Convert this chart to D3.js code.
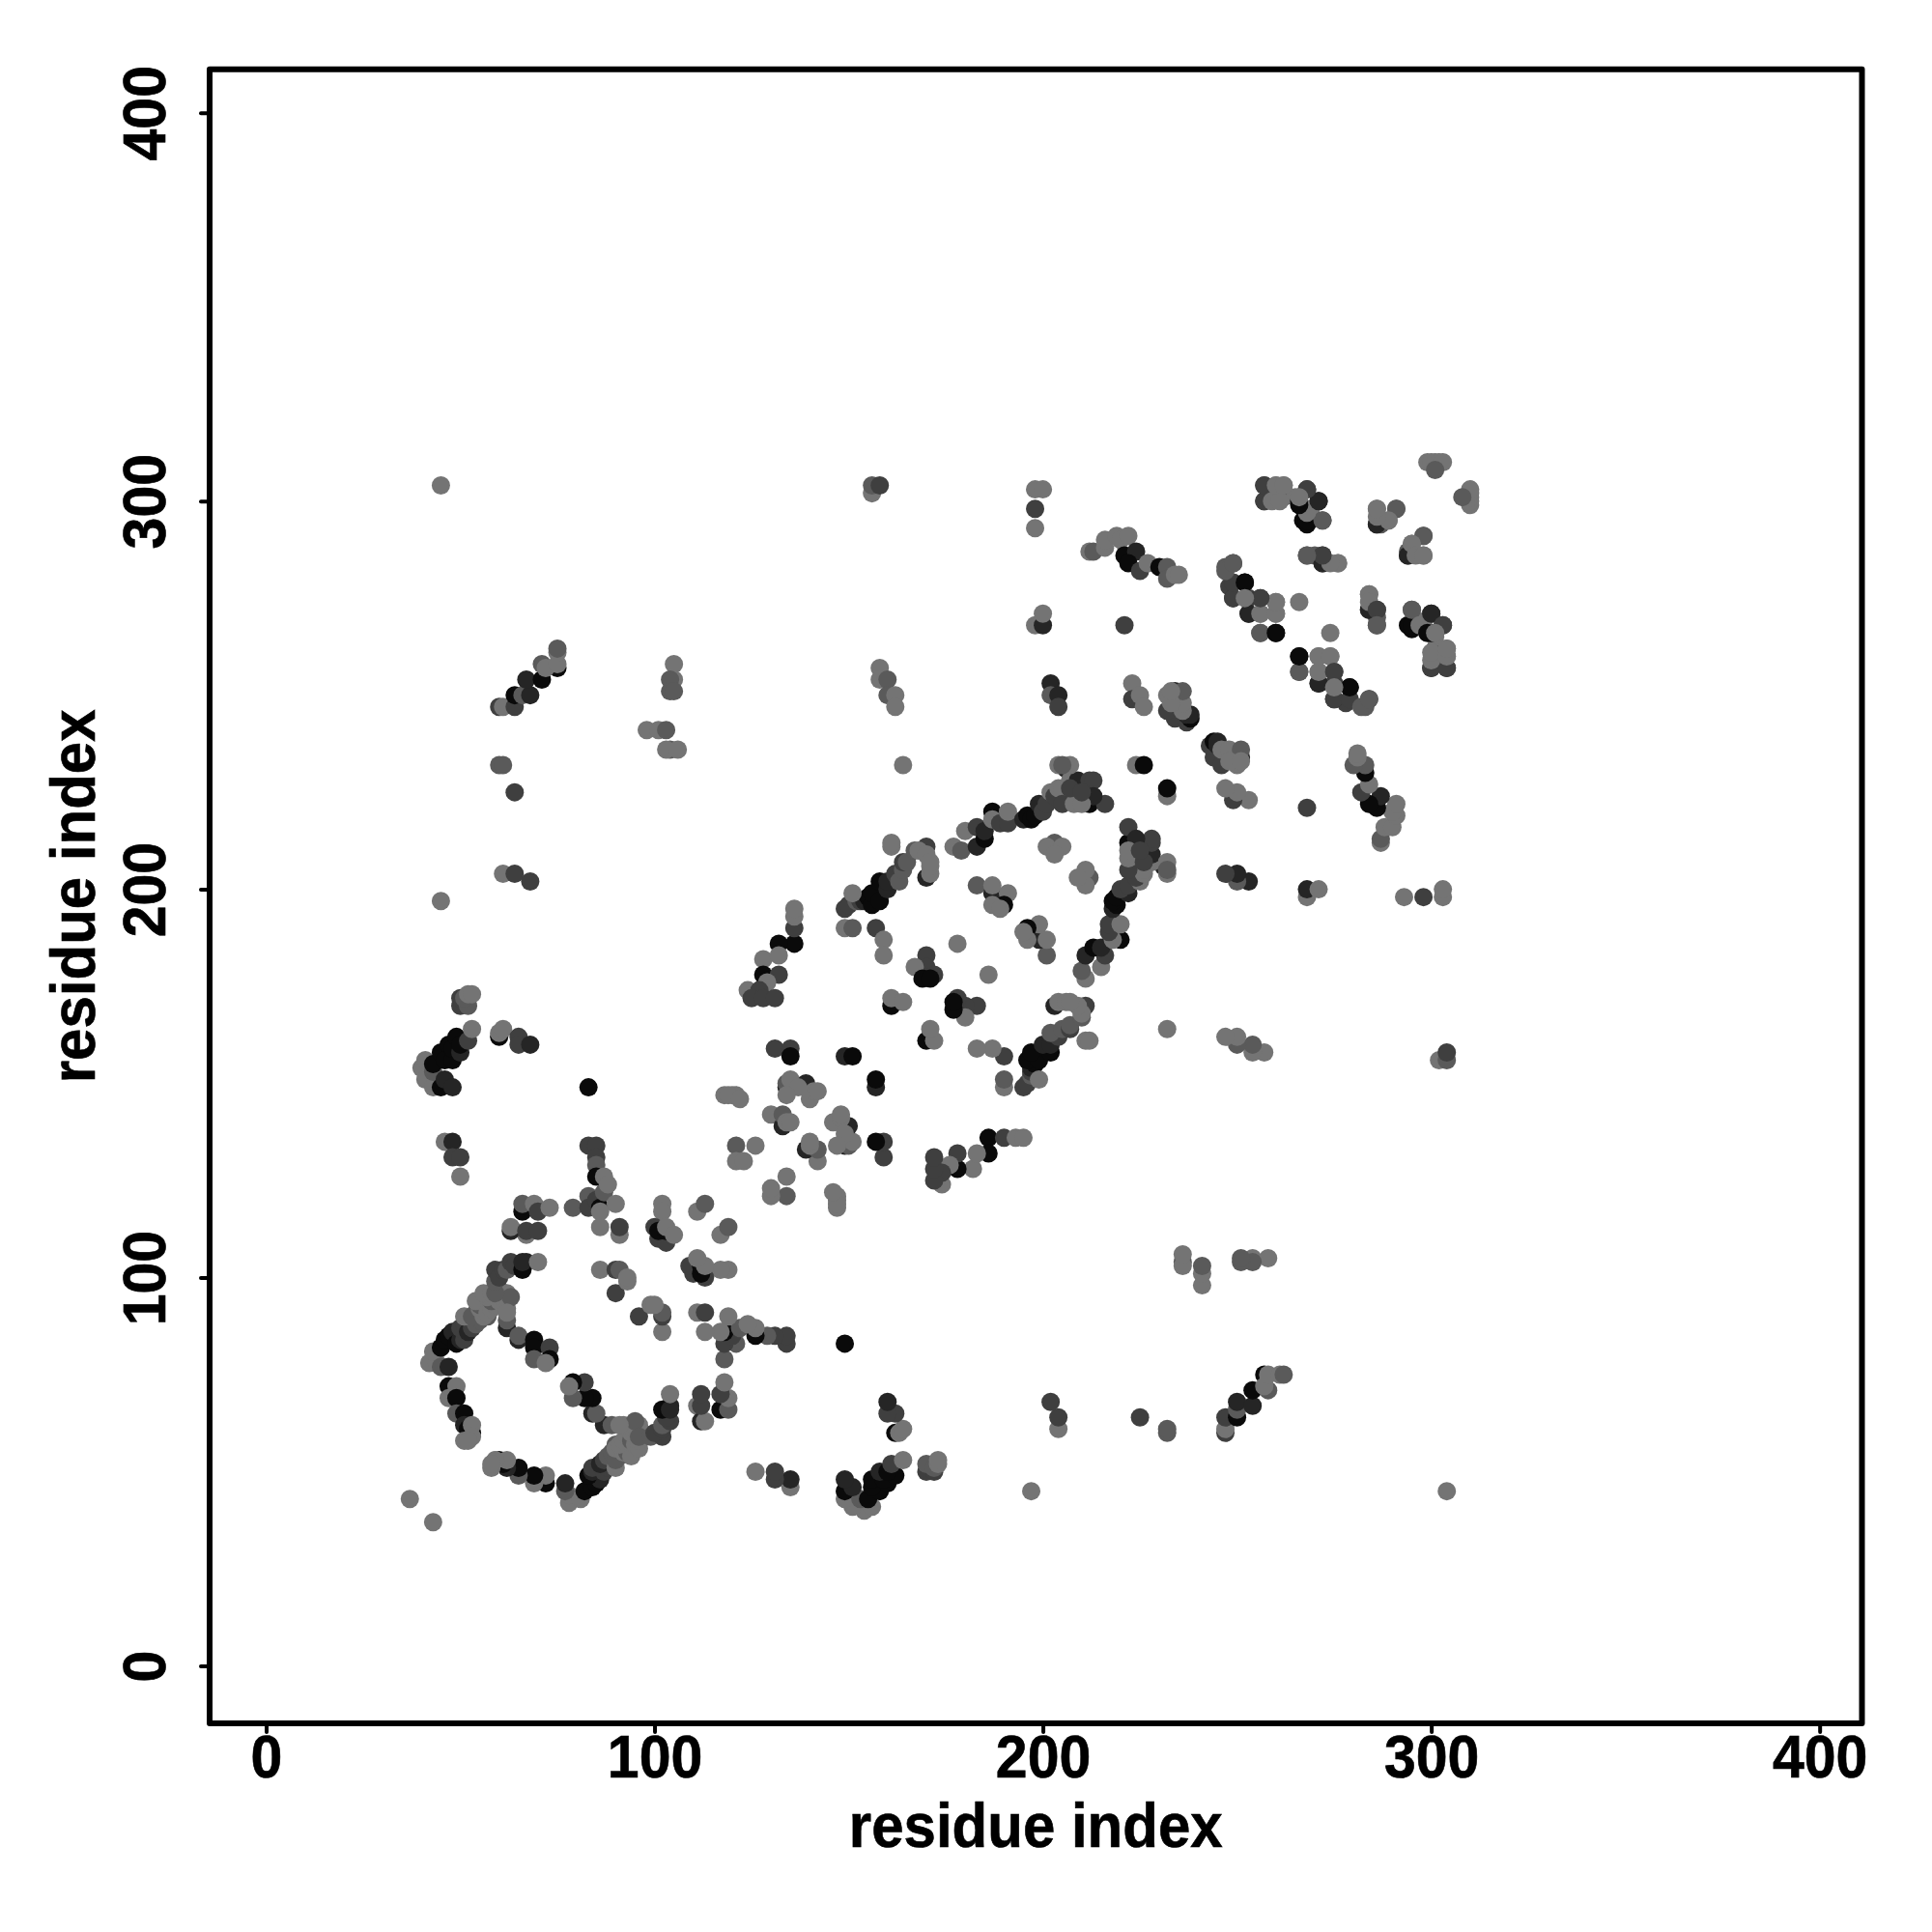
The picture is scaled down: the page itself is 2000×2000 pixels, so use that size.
<!DOCTYPE html>
<html>
  <head>
    <meta charset="utf-8">
    <script src="https://d3js.org/d3.v7.min.js"></script>
    <style>
      body { margin: 0; background: #fff; }
      text { font-family: "Liberation Sans", sans-serif; font-weight: bold; fill: #000; stroke: #000; stroke-width: 0.6; }
    </style>
  </head>
  <body>
    <svg width="2000" height="2000"></svg>
    <script>
    // each row is [residue i, residue j, level], level 0 = black ... 4 = light grey
    const firstLoop = [[42,78,4],[44,78,4],[43,81,4],[45,77,3],[47,77,1],[45,82,0],[46,84,0],[47,85,0],[48,86,1],[49,83,0],[50,84,1],[51,84,2],[50,87,2],[51,88,2],[52,86,1],[53,87,2],[54,88,3],[55,89,3],[54,91,3],[57,90,3],[51,90,4],[53,90,3],[56,90,4],[55,92,4],[55,93,3],[54,94,4],[57,91,4],[58,92,4],[59,93,4],[58,94,3],[57,95,4],[56,96,4],[58,96,4],[60,94,4],[60,97,4],[61,95,4],[62,92,4],[62,96,4],[63,95,3],[59,96,3],[59,99,3],[59,102,2],[60,100,2],[61,102,2],[62,102,3],[63,104,2],[64,103,2],[67,104,1],[66,102,0],[66,104,1],[70,104,4]];
    const loopInner = [[62,87,1],[62,89,3],[62,91,4],[65,84,1],[65,85,3],[69,84,0],[69,82,0],[69,79,3],[73,82,2],[73,79,0],[72,78,4]];
    const loopLeft = [[47,72,0],[49,72,4],[47,69,4],[49,69,0],[49,65,3],[51,65,0],[51,62,1],[53,60,0],[52,61,0],[53,62,4],[51,58,4],[53,59,4],[52,58,4]];
    const loopTop = [[66,117,0],[66,119,3],[69,119,4],[70,117,2],[73,118,4],[67,111,4],[63,112,1],[63,113,4],[67,112,2],[70,112,2],[79,118,3]];
    const cluster85 = [[83,134,2],[85,134,2],[85,131,2],[85,129,3],[85,126,0],[87,126,4],[83,121,3],[83,118,2],[85,120,2],[86,118,0],[87,122,3],[88,124,4],[90,119,4],[86,117,4],[86,113,4],[91,111,4],[91,113,2]];
    const cluster100 = [[102,119,4],[102,117,4],[100,113,2],[101,110,2],[103,109,2],[101,112,0],[103,112,0],[103,113,4],[105,111,4],[111,117,4],[113,119,3],[86,102,4],[90,96,2],[90,102,2],[91,102,3],[93,99,4],[93,100,4]];
    const farLow = [[37,43,4],[46,135,4],[48,135,1],[48,131,2],[50,131,2],[50,126,4],[83,149,0],[45,197,4],[45,304,4]];
    const band155 = [[40,154,4],[41,156,4],[41,151,4],[43,149,4],[43,153,3],[43,155,0],[45,149,0],[46,151,1],[48,149,1],[45,158,0],[46,156,0],[47,160,0],[48,156,0],[48,159,0],[49,162,0],[50,158,1],[50,160,0],[52,161,2],[53,164,4],[50,170,2],[50,172,2],[52,170,3],[51,172,3],[52,173,4],[53,173,4],[60,162,0],[60,163,4],[61,164,4],[65,162,2],[65,160,2],[68,160,1]];
    const topLeft = [[60,247,2],[61,247,4],[64,247,2],[64,250,0],[66,250,3],[68,250,1],[67,254,1],[71,254,0],[71,258,3],[75,257,0],[72,257,4],[75,258,4],[75,261,4],[75,262,3],[60,232,3],[61,232,3],[64,225,2],[61,204,4],[64,204,2],[68,202,2]];
    const col104 = [[105,258,4],[105,254,4],[104,254,3],[104,251,3],[105,251,3],[98,241,4],[101,241,4],[103,241,3],[104,236,3],[103,236,4],[106,236,4]];
    const band130 = [[136,186,0],[132,186,0],[136,190,2],[136,193,4],[136,195,4],[128,182,4],[132,183,4],[128,178,0],[132,178,2],[129,176,4],[124,174,4],[127,174,2],[125,172,2],[128,172,2],[131,172,2]];
    const cross140 = [[131,159,2],[135,159,2],[135,157,0],[149,157,1],[151,157,0],[118,147,4],[120,147,4],[121,147,4],[134,149,1],[134,150,3],[135,151,4],[139,150,1],[140,146,4],[141,148,4],[142,148,4],[130,142,4],[133,139,1],[133,142,3],[134,140,4],[135,140,4],[121,134,3],[126,134,4],[121,130,4],[123,130,4],[137,149,4],[134,147,4],[119,147,4],[122,146,4]];
    const topBand = [[149,195,2],[149,190,4],[151,190,3],[150,196,2],[152,197,3],[153,197,2],[154,197,1],[155,198,0],[156,196,0],[156,199,0],[158,197,0],[158,202,0],[160,200,1],[160,202,1],[162,204,2],[163,202,3],[164,205,3],[164,207,2],[165,207,3],[167,210,3],[170,211,2],[168,210,4],[170,203,1],[171,204,4],[170,209,4],[171,206,4],[171,207,4],[151,199,4],[157,190,2],[159,187,4],[159,183,4],[161,211,4],[161,212,4]];
    const topBand2 = [[177,211,4],[179,210,3],[180,215,4],[183,211,1],[183,216,2],[185,213,0],[185,215,1],[187,220,0],[187,218,4],[189,217,2],[191,217,2],[191,220,4],[195,218,1],[196,219,0],[197,218,0],[198,219,0],[199,222,1],[200,220,2],[201,222,2],[202,225,4],[203,225,4],[203,224,2],[204,226,4],[205,226,4],[205,222,2],[206,231,1],[208,222,4],[207,228,4],[209,228,1],[212,228,2],[213,228,2],[212,224,2],[212,222,0],[216,222,2],[204,232,4],[207,232,4],[205,232,3],[213,224,1],[210,222,4],[207,226,2],[210,225,2],[224,232,4],[226,232,0]];
    const interior = [[170,183,2],[170,180,2],[167,180,4],[172,178,2],[169,177,0],[171,177,0],[161,170,0],[161,172,4],[164,171,4],[178,186,4],[183,201,3],[187,199,1],[187,201,4],[191,199,4],[190,196,0],[187,196,4],[189,195,4],[203,210,0],[203,212,3],[201,211,4],[205,211,4],[203,209,4]];
    const upperMid = [[156,302,4],[156,304,3],[158,304,2],[198,303,4],[200,303,4],[198,298,2],[198,293,4],[212,287,4],[213,287,3],[216,288,4],[216,290,4],[219,291,4],[220,290,4],[222,291,4],[221,286,0],[224,287,1],[222,284,0],[225,282,2],[227,284,4],[230,283,0],[232,283,3],[232,280,3],[234,281,4],[235,281,4],[198,268,4],[200,268,1],[200,271,4],[221,268,2],[158,257,4],[158,254,4],[160,254,3],[160,250,3],[162,250,4],[162,247,4],[164,232,4],[202,253,1],[202,250,3],[204,250,1],[204,247,2],[223,253,4],[223,249,2],[225,250,4],[226,247,4]];
    const cluster235 = [[233,246,1],[234,244,2],[237,243,2],[238,244,0],[237,245,1],[238,245,1],[232,246,2],[234,248,1],[234,251,1],[232,250,4],[236,246,4],[236,248,4],[236,251,3],[233,248,4],[233,251,4]];
    const cluster250 = [[249,284,2],[247,283,3],[248,278,2],[252,279,0],[249,275,1],[253,275,2],[256,275,1],[253,271,1],[256,271,4],[256,266,3],[260,266,0],[260,274,4],[260,271,4],[266,274,4]];
    const cluster265 = [[257,304,2],[257,300,2],[260,304,4],[262,304,4],[260,301,4],[262,301,3],[265,301,4],[266,300,0],[268,303,2],[271,300,1],[267,295,0],[268,294,0],[269,298,4],[272,295,3],[268,286,3],[270,286,3],[272,284,2],[272,286,2],[276,284,4]];
    const cluster290 = [[286,294,2],[287,294,3],[286,298,4],[291,298,3],[289,295,4],[294,286,1],[298,291,3],[295,289,4],[296,286,4],[298,286,4],[284,272,1],[284,276,4],[284,274,4],[286,272,2],[286,268,3],[299,310,4],[300,310,4],[301,310,4],[302,310,4],[303,310,4],[301,308,3]];
    const cluster300 = [[295,268,0],[295,272,3],[297,268,4],[299,266,0],[300,271,1],[303,268,2],[301,266,4],[300,257,2],[304,257,2],[300,259,4],[300,261,4],[304,260,4],[304,262,4]];
    const cluster270 = [[266,256,3],[266,260,0],[271,253,1],[271,256,4],[271,260,4],[274,260,4],[275,256,2],[275,249,2],[279,249,2],[279,252,0],[275,252,4],[282,247,3],[284,249,3]];

    const contacts = [firstLoop, loopInner, loopLeft, loopTop, cluster85, cluster100, farLow, band155, topLeft, col104, band130, cross140, topBand, topBand2, interior, upperMid, cluster235, cluster250, cluster265, cluster290, cluster300, cluster270].flat();
    const tickValues = [0, 100, 200, 300, 400];
    const axisLabel = 'residue index';

    const svg = d3.select('svg');
    const box = { left: 217, right: 1927.5, top: 71.7, bottom: 1784 };

    const xScale = d3.scaleLinear().domain([-14.55, 410.9]).range([box.left, box.right]);
    const yScale = d3.scaleLinear().domain([-14.8, 411.2]).range([box.bottom, box.top]);
    const shade = d3.scaleLinear().domain([0, 4]).range(['#0a0a0a', '#747474']);

    // the map is symmetric, every contact is drawn on both sides of the diagonal
    const points = contacts.flatMap(([i, j, level]) => [
      { x: i, y: j, level },
      { x: j, y: i, level }
    ]);

    svg.append('g').selectAll('circle').data(points)
      .enter().append('circle')
        .attr('cx', d => xScale(d.x))
        .attr('cy', d => yScale(d.y))
        .attr('r', 9.5)
        .attr('fill', d => shade(d.level));

    svg.append('rect')
      .attr('x', box.left)
      .attr('y', box.top)
      .attr('width', box.right - box.left)
      .attr('height', box.bottom - box.top)
      .attr('fill', 'none')
      .attr('stroke', '#000')
      .attr('stroke-linejoin', 'round')
      .attr('stroke-width', 6);

    const xAxis = svg.append('g')
      .attr('transform', `translate(0,${box.bottom})`)
      .call(d3.axisBottom(xScale).tickValues(tickValues).tickSize(9).tickFormat(d3.format('d')));
    const yAxis = svg.append('g')
      .attr('transform', `translate(${box.left},0)`)
      .call(d3.axisLeft(yScale).tickValues(tickValues).tickSize(9).tickFormat(d3.format('d')));

    xAxis.select('.domain').remove();
    yAxis.select('.domain').remove();
    [xAxis, yAxis].forEach(axis => axis.selectAll('line')
      .attr('stroke', '#000')
      .attr('stroke-width', 4)
      .attr('stroke-linecap', 'round'));

    // the reference lettering is a little taller than Liberation, hence the scale
    xAxis.selectAll('text')
      .attr('y', 0).attr('dy', 0)
      .attr('text-anchor', 'middle')
      .attr('font-size', 59)
      .attr('transform', 'translate(0,56) scale(1,1.08)');
    yAxis.selectAll('text')
      .attr('x', 0).attr('y', 0).attr('dy', 0)
      .attr('text-anchor', 'middle')
      .attr('font-size', 59)
      .attr('transform', 'translate(-46,0) rotate(-90) scale(1,1.08)');

    svg.append('text')
      .attr('transform', `translate(${(box.left + box.right) / 2},1912) scale(1,1.08)`)
      .attr('text-anchor', 'middle')
      .attr('font-size', 60)
      .text(axisLabel);

    svg.append('text')
      .attr('transform', `translate(98,${(box.top + box.bottom) / 2}) rotate(-90) scale(1,1.08)`)
      .attr('text-anchor', 'middle')
      .attr('font-size', 60)
      .text(axisLabel);
    </script>
  </body>
</html>
